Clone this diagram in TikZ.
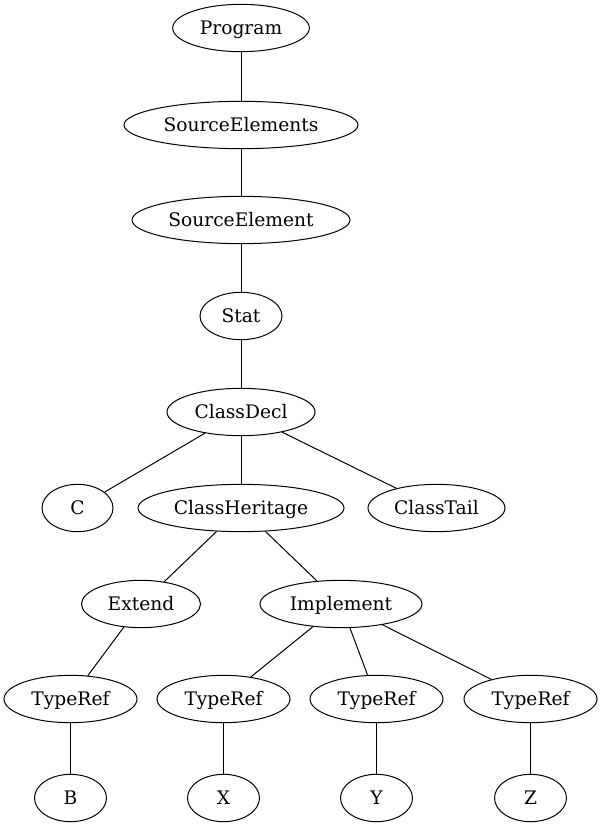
\documentclass[tikz,border=0pt]{standalone}
\usepackage{fontspec}
\setmainfont{DejaVu Serif}
\usetikzlibrary{shapes.geometric}
\begin{document}
\begin{tikzpicture}[x=0.75pt,y=-0.75pt,
  nd/.style={draw,ellipse,inner sep=0pt,minimum height=35.5pt,text height=11pt,text depth=1.2pt,font=\fontsize{14pt}{16pt}\selectfont,line width=0.75pt},
  ed/.style={line width=0.75pt}]
\useasboundingbox (0,0) rectangle (601,827);
\node[nd,minimum width=102.5pt] (prog) at (241,28) {Program};
\node[nd,minimum width=175.5pt] (ses) at (241,125) {SourceElements};
\node[nd,minimum width=163.5pt] (se) at (241,220) {SourceElement};
\node[nd,minimum width=61.5pt] (stat) at (241,316) {Stat};
\node[nd,minimum width=111pt] (cd) at (241,412) {ClassDecl};
\node[nd,minimum width=53.25pt] (c) at (77.5,508) {C};
\node[nd,minimum width=154.5pt] (ch) at (241,508) {ClassHeritage};
\node[nd,minimum width=102.75pt] (ct) at (436.5,508) {ClassTail};
\node[nd,minimum width=89.25pt] (ext) at (141,604) {Extend};
\node[nd,minimum width=121.5pt] (imp) at (341,604) {Implement};
\node[nd,minimum width=99.75pt] (t1) at (70.5,699) {TypeRef};
\node[nd,minimum width=99.75pt] (t2) at (223.5,699) {TypeRef};
\node[nd,minimum width=99.75pt] (t3) at (376.5,699) {TypeRef};
\node[nd,minimum width=99.75pt] (t4) at (530.5,699) {TypeRef};
\node[nd,minimum width=54pt] (b) at (70.5,798) {B};
\node[nd,minimum width=54pt] (x) at (223.5,798) {X};
\node[nd,minimum width=54pt] (y) at (376.5,798) {Y};
\node[nd,minimum width=54pt] (z) at (530.5,798) {Z};
\draw[ed] (prog) -- (ses);
\draw[ed] (ses) -- (se);
\draw[ed] (se) -- (stat);
\draw[ed] (stat) -- (cd);
\draw[ed] (cd) -- (c);
\draw[ed] (cd) -- (ch);
\draw[ed] (cd) -- (ct);
\draw[ed] (ch) -- (ext);
\draw[ed] (ch) -- (imp);
\draw[ed] (ext) -- (t1);
\draw[ed] (imp) -- (t2);
\draw[ed] (imp) -- (t3);
\draw[ed] (imp) -- (t4);
\draw[ed] (t1) -- (b);
\draw[ed] (t2) -- (x);
\draw[ed] (t3) -- (y);
\draw[ed] (t4) -- (z);
\end{tikzpicture}
\end{document}
